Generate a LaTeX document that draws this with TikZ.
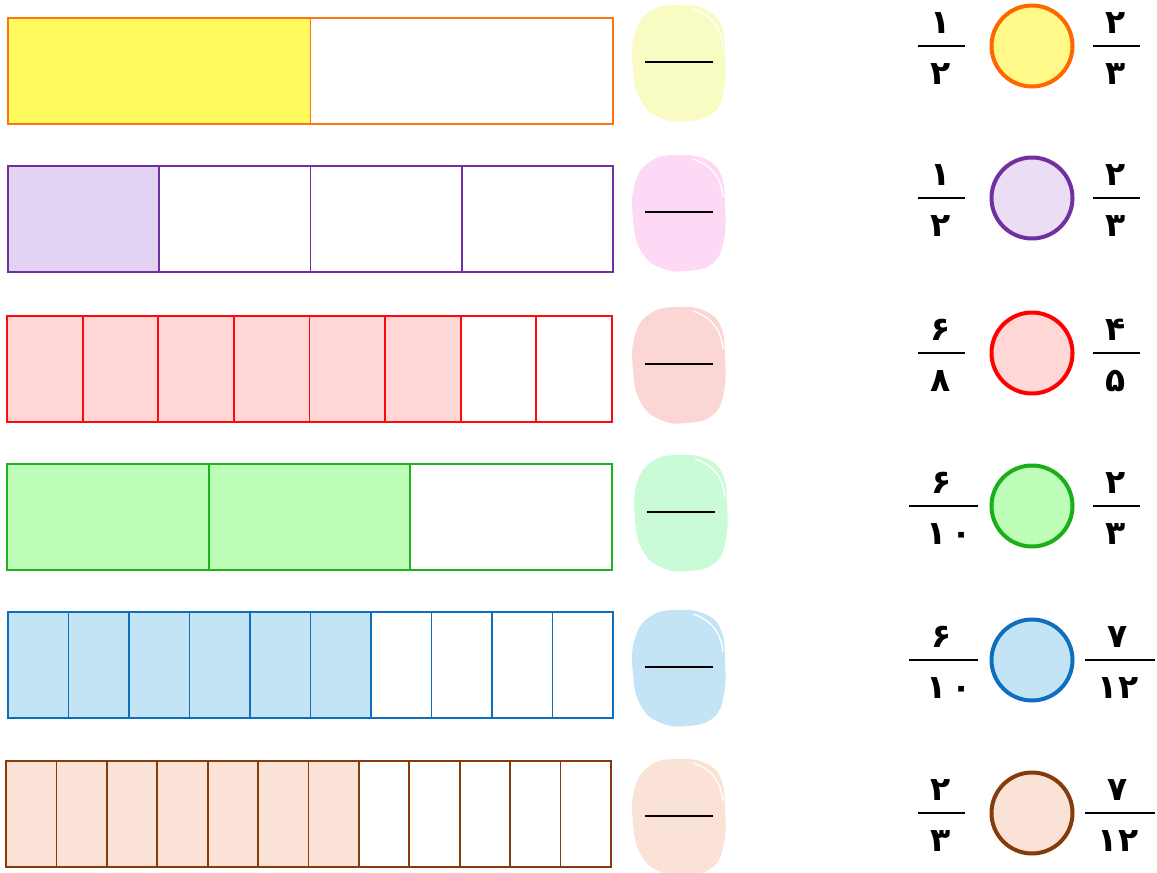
\documentclass[tikz,border=0pt]{standalone}
\usepackage{fontspec}
\newfontfamily\digitfont{DejaVu Sans}
\begin{document}
\begin{tikzpicture}[x=1pt,y=-1pt,
  barline/.style={line width=1.8pt},
  fracline/.style={line width=2.4pt,black},
  digit/.style={font=\digitfont\fontsize{33}{33}\selectfont\bfseries,inner sep=0pt,anchor=base},
  dot/.style={circle,minimum size=81pt,inner sep=0pt,line width=4pt}]
\useasboundingbox (0,0) rectangle (1157,873);
\definecolor{c1f}{HTML}{FFFB5E}\definecolor{c1d}{HTML}{FF7410}\definecolor{c1b}{HTML}{F8FBC2}\definecolor{c1c}{HTML}{FFF98A}\definecolor{c1s}{HTML}{FF6600}
\definecolor{c2f}{HTML}{E3D3F2}\definecolor{c2d}{HTML}{7030A0}\definecolor{c2b}{HTML}{FDD9F5}\definecolor{c2c}{HTML}{EADDF5}\definecolor{c2s}{HTML}{7030A0}
\definecolor{c3f}{HTML}{FFD7D7}\definecolor{c3d}{HTML}{FF0A0A}\definecolor{c3b}{HTML}{FCD6D4}\definecolor{c3c}{HTML}{FFD7D7}\definecolor{c3s}{HTML}{FF0000}
\definecolor{c4f}{HTML}{BDFDB8}\definecolor{c4d}{HTML}{1DB31D}\definecolor{c4b}{HTML}{C9FCD6}\definecolor{c4c}{HTML}{BDFDB8}\definecolor{c4s}{HTML}{1AAF1A}
\definecolor{c5f}{HTML}{C2E4F4}\definecolor{c5d}{HTML}{0E6FBE}\definecolor{c5b}{HTML}{C2E4F4}\definecolor{c5c}{HTML}{C2E4F4}\definecolor{c5s}{HTML}{0E6FBE}
\definecolor{c6f}{HTML}{FBE2D6}\definecolor{c6d}{HTML}{843C0C}\definecolor{c6b}{HTML}{FBE2D6}\definecolor{c6c}{HTML}{FBE2D6}\definecolor{c6s}{HTML}{843C0C}
% bars: x0, y0, n parts, k filled, colour index
\foreach \xo/\yo/\n/\k/\c in {8/18/2/1/1, 8/166/4/1/2, 7/316/8/6/3, 7/464/3/2/4, 8/612/10/6/5, 6/761/12/7/6}{
  \pgfmathsetmacro\w{605/\n}
  \fill[c\c f] (\xo,\yo) rectangle ++(\k*\w,106);
  \draw[barline,c\c d] (\xo,\yo) rectangle ++(605,106);
  \foreach \i in {1,...,\n}{
    \ifnum\i<\n \draw[barline,c\c d] (\xo+\i*\w,\yo) -- ++(0,106);\fi
  }
}
% blobs
\foreach \bx/\by/\c in {679/63/1, 679/213/2, 679/365/3, 681/513/4, 679/668/5, 679/817/6}{
  \begin{scope}[shift={(\bx,\by)}]
  \fill[c\c b] plot[smooth cycle,tension=0.75] coordinates {(-2,-58) (26,-54) (42,-38) (46,-8) (45,26) (34,50) (8,58) (-18,55) (-38,38) (-46,6) (-44,-30) (-28,-52)};
  \draw[white,line width=1.3pt] (14,-54) .. controls (32,-48) and (42,-36) .. (44,-16);
  \draw[line width=2.8pt] (-34,-1) -- (34,-1);
  \end{scope}
}
% circles and fractions
\foreach \cy/\c/\ln/\ld/\lw/\rn/\rd/\rw [count=\r] in {
  46/1/۱/۲/0/۲/۳/0,
  198/2/۱/۲/0/۲/۳/0,
  353/3/۶/۸/0/۴/۵/0,
  506/4/۶/۱\,۰/1/۲/۳/0,
  660/5/۶/۱\,۰/1/۷/۱۲/1,
  813/6/۲/۳/0/۷/۱۲/1}{
  \node[dot,draw=c\c s,fill=c\c c] (circ\r) at (1032,\cy) {};
  \ifnum\lw=1
    \draw[fracline] (909,\cy) -- (978,\cy);
    \node[digit] (ln\r) at (942,\cy-13) {\ln};
    \node[digit] (ld\r) at (949,\cy+38) {\ld};
  \else
    \draw[fracline] (918,\cy) -- (965,\cy);
    \node[digit] (ln\r) at (941,\cy-13) {\ln};
    \node[digit] (ld\r) at (941,\cy+38) {\ld};
  \fi
  \ifnum\rw=1
    \draw[fracline] (1085,\cy) -- (1155,\cy);
    \node[digit] (rn\r) at (1118,\cy-13) {\rn};
    \node[digit] (rd\r) at (1118,\cy+38) {\rd};
  \else
    \draw[fracline] (1093,\cy) -- (1140,\cy);
    \node[digit] (rn\r) at (1116,\cy-13) {\rn};
    \node[digit] (rd\r) at (1116,\cy+38) {\rd};
  \fi
}
\end{tikzpicture}
\end{document}
